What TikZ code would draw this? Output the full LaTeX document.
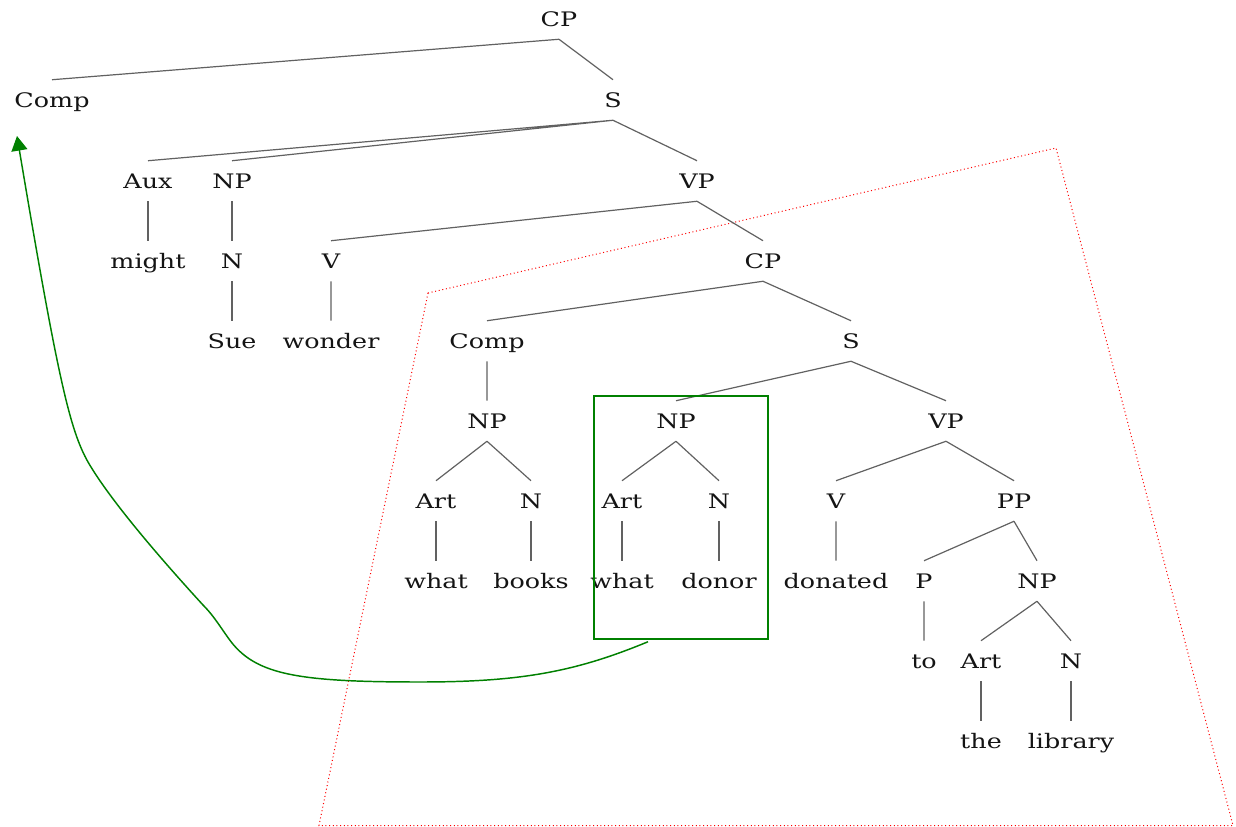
\documentclass[tikz,border=0pt]{standalone}
\usepackage{fontspec}
\setmainfont[FakeStretch=1.27]{DejaVu Serif}
\usetikzlibrary{arrows.meta,calc}
\definecolor{movegreen}{RGB}{0,128,0}

\begin{document}
\begin{tikzpicture}[x=0.75pt,y=-0.75pt,
  cat/.style={inner xsep=0pt, inner ysep=9.5pt, text height=11pt, text depth=0pt,
    text=black!92, font=\fontsize{15}{18}\selectfont},
  br/.style={draw=black!62, line width=0.9pt},
  island/.style={draw=red, dotted, line width=0.75pt},
  moved/.style={draw=movegreen, line width=1.1pt},
  movearrow/.style={movegreen, line width=1.1pt, -{Triangle[width=12pt,length=11pt]}}]
\useasboundingbox (0,0) rectangle (1236,827);

% island boundary
\draw[island] (428,293) -- (1056,148) -- (1233,825.5) -- (319,825.5) -- cycle;

% matrix clause
\node[cat] (cp)    at (559,19)  {CP};
\node[cat] (comp)  at (52,100)  {Comp};
\node[cat] (s)     at (613,100) {S};
\node[cat] (aux)   at (148,181) {Aux};
\node[cat] (np)    at (232,181) {NP};
\node[cat] (vp)    at (697,181) {VP};
\node[cat] (might) at (148,261) {might};
\node[cat] (n)     at (232,261) {N};
\node[cat] (v)     at (331,261) {V};
\node[cat] (cpb)   at (763,261) {CP};
\node[cat] (sue)   at (232,341) {Sue};
\node[cat] (wond)  at (331,341) {wonder};

% embedded clause
\node[cat] (compb) at (487,341) {Comp};
\node[cat] (sb)    at (851,341) {S};
\node[cat] (npa)   at (487,421) {NP};
\node[cat] (npb)   at (676,421) {NP};
\node[cat] (vpb)   at (946,421) {VP};
\node[cat] (arta)  at (436,501) {Art};
\node[cat] (na)    at (531,501) {N};
\node[cat] (artb)  at (622,501) {Art};
\node[cat] (nb)    at (719,501) {N};
\node[cat] (vb)    at (836,501) {V};
\node[cat] (pp)    at (1014,501) {PP};
\node[cat] (whata) at (436,581) {what};
\node[cat] (books) at (531,581) {books};
\node[cat] (whatb) at (622,581) {what};
\node[cat] (donor) at (719,581) {donor};
\node[cat] (don)   at (836,581) {donated};
\node[cat] (p)     at (924,581) {P};
\node[cat] (npc)   at (1037,581) {NP};
\node[cat] (to)    at (924,661) {to};
\node[cat] (artc)  at (981,661) {Art};
\node[cat] (nc)    at (1071,661) {N};
\node[cat] (the)   at (981,741) {the};
\node[cat] (lib)   at (1071,741) {library};

% branches
\draw[br] (cp.south) -- (comp.north) (cp.south) -- (s.north);
\draw[br] (s.south) -- (aux.north) (s.south) -- (np.north) (s.south) -- (vp.north);
\draw[br] (aux.south) -- (might.north) (np.south) -- (n.north) (n.south) -- (sue.north);
\draw[br] (vp.south) -- (v.north) (vp.south) -- (cpb.north) (v.south) -- (wond.north);
\draw[br] (cpb.south) -- (compb.north) (cpb.south) -- (sb.north) (compb.south) -- (npa.north);
\draw[br] (sb.south) -- (npb.north) (sb.south) -- (vpb.north);
\draw[br] (npa.south) -- (arta.north) (npa.south) -- (na.north);
\draw[br] (arta.south) -- (whata.north) (na.south) -- (books.north);
\draw[br] (npb.south) -- (artb.north) (npb.south) -- (nb.north);
\draw[br] (artb.south) -- (whatb.north) (nb.south) -- (donor.north);
\draw[br] (vpb.south) -- (vb.north) (vpb.south) -- (pp.north) (vb.south) -- (don.north);
\draw[br] (pp.south) -- (p.north) (pp.south) -- (npc.north) (p.south) -- (to.north);
\draw[br] (npc.south) -- (artc.north) (npc.south) -- (nc.north);
\draw[br] (artc.south) -- (the.north) (nc.south) -- (lib.north);

% moved phrase and its path
\node[moved, minimum width=130.5pt, minimum height=182.25pt] (wh) at (681,517.5) {};
\coordinate (land) at (17,136);
\draw[movearrow] ($(wh.south)+(-33,2)$) .. controls (575,672) and (520,682) .. (420,682)
  .. controls (300,682) and (258,675) .. (232,643)
  .. controls (222,630) and (215,617) .. (203,605)
  .. controls (160,558) and (110,500) .. (88,462)
  .. controls (70,430) and (58,380) .. (land);
\end{tikzpicture}
\end{document}
